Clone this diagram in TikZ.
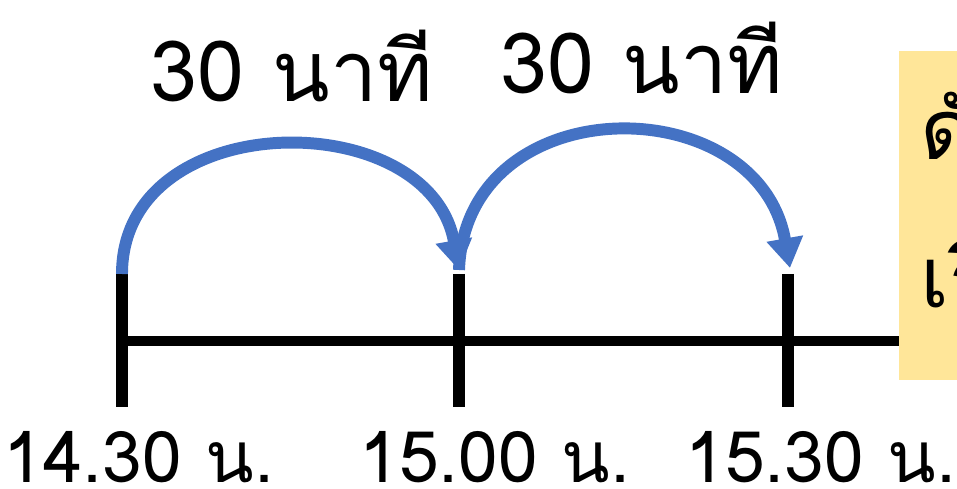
\documentclass[tikz,border=0pt]{standalone}
\usepackage{fontspec}
\newfontfamily\thaifont[Script=Thai]{Loma}
\usetikzlibrary{arrows.meta}
\definecolor{arcblue}{HTML}{4472C4}
\definecolor{boxyellow}{HTML}{FFE699}

\begin{document}
\begin{tikzpicture}
  [x=0.02cm,y=-0.02cm,
   every node/.style={font=\thaifont\fontsize{40.5}{48}\selectfont,inner sep=0pt},
   jump/.style={draw=arcblue,line width=6.8pt,-{Triangle[width=20pt,length=17pt]}}]
  \useasboundingbox (0,0) rectangle (957,489);
  \clip (0,0) rectangle (957,489);

  % กล่องสีเหลืองด้านขวา
  \fill[boxyellow] (899,51) rectangle (1100,380);
  \node[anchor=base west] (note1) at (920,160) {\fontsize{48}{52}\selectfont ดังนั้น};
  \node[anchor=base west] (note2) at (920,308) {\fontsize{48}{52}\selectfont เริ่มเวลา};

  % เส้นเวลา
  \coordinate (start) at (120,341);
  \coordinate (stop) at (899,341);
  \draw[line width=5.7pt] (start) -- (stop);

  % ขีดแบ่งและเวลา
  \foreach \n/\x/\lx/\txt in {1/122/139/14.30 น., 2/459/495/15.00 น., 3/788/821/15.30 น.} {
    \coordinate (top\n) at (\x,274);
    \coordinate (bot\n) at (\x,407);
    \draw[line width=6.8pt] (top\n) -- (bot\n);
    \node (time\n) at (\lx,457) {\txt};
  }

  % ลูกศรช่วงเวลา
  \coordinate (tip1) at (459,270);
  \coordinate (tip2) at (790,268);
  \draw[jump] (top1) to[out=90,in=100,looseness=1.28] (tip1);
  \draw[jump] (tip1) to[out=88,in=100,looseness=1.42] (tip2);

  \node (gap1) at (292,66) {\fontsize{48}{52}\selectfont 30 นาที};
  \node (gap2) at (642,58) {\fontsize{48}{52}\selectfont 30 นาที};
\end{tikzpicture}
\end{document}
